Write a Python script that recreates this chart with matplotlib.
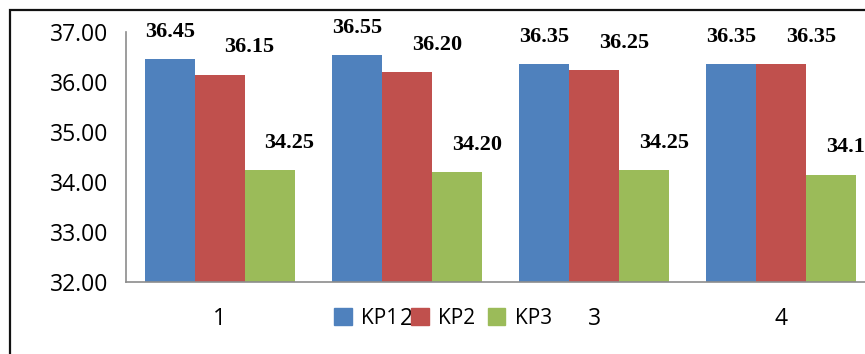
import numpy as np
import matplotlib.pyplot as plt
from matplotlib.patches import Rectangle, Patch

# dados das três séries por período
periodos = ['1', '2', '3', '4']
kp1 = [36.45, 36.55, 36.35, 36.35]
kp2 = [36.15, 36.20, 36.25, 36.35]
kp3 = [34.25, 34.20, 34.25, 34.15]
series = ['KP1', 'KP2', 'KP3']

cores = ['#4F81BD', '#C0504D', '#9BBB59']

fig = plt.figure(figsize=(8.65, 3.54), dpi=100)
# eixo mais largo que a figura (gráfico cortado à direita)
ax = fig.add_axes([126 / 865, 72 / 354, 749 / 865, 250 / 354])

x = np.arange(len(periodos))
largura = 50 / 187.3
desloc_rot = [0, 30, 20]  # deslocamento horizontal dos rótulos (px)

for i, (nome, vals) in enumerate(zip(series, [kp1, kp2, kp3])):
    pos = x + (i - 1) * largura
    ax.bar(pos, np.array(vals) - 32, width=largura, bottom=32, color=cores[i], label=nome)
    for xp, v in zip(pos, vals):
        ax.annotate(f'{v:.2f}', (xp, v), xytext=(desloc_rot[i], 27),
                    textcoords='offset pixels', ha='center', va='center',
                    fontsize=16, fontweight='bold', family='Liberation Serif')

ax.set_xlim(-0.5, len(periodos) - 0.5)
ax.set_ylim(32, 37)
ax.set_yticks(np.arange(32, 37.01, 1))
ax.set_yticklabels([f'{v:.2f}' for v in np.arange(32, 37.01, 1)])
ax.set_xticks(x)
ax.set_xticklabels(periodos)
ax.tick_params(length=0, labelsize=16.5)
ax.tick_params(axis='y', pad=13)
ax.tick_params(axis='x', pad=18)
for lab in ax.get_xticklabels() + ax.get_yticklabels():
    lab.set_family('Open Sans')

for lado in ['top', 'right']:
    ax.spines[lado].set_visible(False)
for lado in ['left', 'bottom']:
    ax.spines[lado].set_color('#8c8c8c')
    ax.spines[lado].set_linewidth(1.2)

handles = [Patch(color=c, label=n) for c, n in zip(cores, series)]
fig.legend(handles=handles, loc='center', bbox_to_anchor=(443 / 865, 36 / 354),
           ncol=3, frameon=False, handlelength=0.85, handleheight=0.85,
           handletextpad=0.45, columnspacing=0.6,
           prop={'family': 'Open Sans', 'size': 15})

# moldura externa
fig.patches.append(Rectangle((10 / 865, -0.1), 1.0, 0.972 + 0.1, transform=fig.transFigure,
                             fill=False, edgecolor='#111111', linewidth=1.6))

fig.savefig('out.png', dpi=100)
